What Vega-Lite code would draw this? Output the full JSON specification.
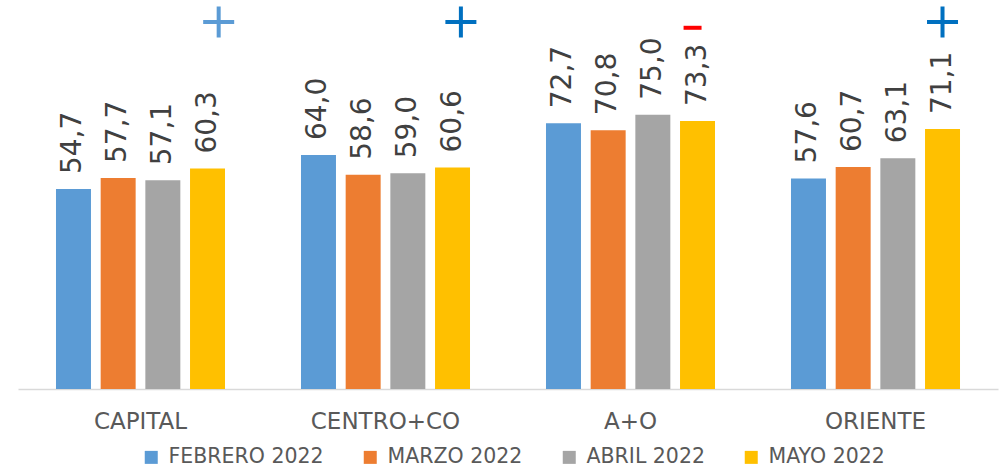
{
  "$schema": "https://vega.github.io/schema/vega-lite/v6.json",
  "width": 980,
  "height": 389,
  "autosize": {"type": "none"},
  "padding": {"left": 18, "top": 0, "right": 6, "bottom": 82},
  "config": {
    "view": {"stroke": null},
    "locale": {"number": {"decimal": ",", "thousands": ".", "grouping": [3], "currency": ["", " €"]}},
    "font": "DejaVu Sans",
    "axisX": {
      "labelFont": "DejaVu Sans",
      "labelFontSize": 23,
      "labelColor": "#595959",
      "labelPadding": 21,
      "ticks": false,
      "tickSize": 0,
      "domainColor": "#d9d9d9",
      "domainWidth": 1.5,
      "grid": false,
      "title": null,
      "labelAngle": 0
    },
    "legend": {
      "labelFont": "DejaVu Sans",
      "labelFontSize": 20.5,
      "labelColor": "#595959",
      "symbolType": "square",
      "symbolSize": 169,
      "symbolStrokeWidth": 0,
      "labelOffset": 7,
      "columnPadding": 36
    }
  },
  "datasets": {
    "barras": [
      {"region": "CAPITAL", "serie": "FEBRERO 2022", "valor": 54.7},
      {"region": "CAPITAL", "serie": "MARZO 2022", "valor": 57.7},
      {"region": "CAPITAL", "serie": "ABRIL 2022", "valor": 57.1},
      {"region": "CAPITAL", "serie": "MAYO 2022", "valor": 60.3},
      {"region": "CENTRO+CO", "serie": "FEBRERO 2022", "valor": 64.0},
      {"region": "CENTRO+CO", "serie": "MARZO 2022", "valor": 58.6},
      {"region": "CENTRO+CO", "serie": "ABRIL 2022", "valor": 59.0},
      {"region": "CENTRO+CO", "serie": "MAYO 2022", "valor": 60.6},
      {"region": "A+O", "serie": "FEBRERO 2022", "valor": 72.7},
      {"region": "A+O", "serie": "MARZO 2022", "valor": 70.8},
      {"region": "A+O", "serie": "ABRIL 2022", "valor": 75.0},
      {"region": "A+O", "serie": "MAYO 2022", "valor": 73.3},
      {"region": "ORIENTE", "serie": "FEBRERO 2022", "valor": 57.6},
      {"region": "ORIENTE", "serie": "MARZO 2022", "valor": 60.7},
      {"region": "ORIENTE", "serie": "ABRIL 2022", "valor": 63.1},
      {"region": "ORIENTE", "serie": "MAYO 2022", "valor": 71.1}
    ],
    "signos": [
      {"region": "CAPITAL", "serie": "MAYO 2022", "signo": "+", "nivel": 100.4},
      {"region": "CENTRO+CO", "serie": "MAYO 2022", "signo": "+", "nivel": 100.4},
      {"region": "A+O", "serie": "MAYO 2022", "signo": "−", "nivel": 98.8},
      {"region": "ORIENTE", "serie": "MAYO 2022", "signo": "+", "nivel": 100.4}
    ]
  },
  "encoding": {
    "x": {
      "field": "region",
      "type": "nominal",
      "sort": ["CAPITAL", "CENTRO+CO", "A+O", "ORIENTE"],
      "scale": {"paddingInner": 0.27, "paddingOuter": 0.135},
      "axis": {"title": null}
    },
    "xOffset": {
      "field": "serie",
      "type": "nominal",
      "sort": ["FEBRERO 2022", "MARZO 2022", "ABRIL 2022", "MAYO 2022"],
      "scale": {"domain": ["FEBRERO 2022", "MARZO 2022", "ABRIL 2022", "MAYO 2022"], "paddingInner": 0.217, "paddingOuter": 0.11}
    }
  },
  "layer": [
    {
      "data": {"name": "barras"},
      "mark": {"type": "bar"},
      "encoding": {
        "y": {"field": "valor", "type": "quantitative", "scale": {"domain": [0, 106.4], "nice": false}, "axis": null},
        "color": {
          "field": "serie",
          "type": "nominal",
          "sort": ["FEBRERO 2022", "MARZO 2022", "ABRIL 2022", "MAYO 2022"],
          "scale": {"domain": ["FEBRERO 2022", "MARZO 2022", "ABRIL 2022", "MAYO 2022"], "range": ["#5b9bd5", "#ed7d31", "#a5a5a5", "#ffc000"]},
          "legend": {"title": null, "orient": "none", "direction": "horizontal", "columns": 4, "legendX": 123, "legendY": 447}
        }
      }
    },
    {
      "data": {"name": "barras"},
      "mark": {"type": "text", "angle": 270, "align": "left", "baseline": "middle", "dx": 15, "fontSize": 28, "color": "#404040", "font": "DejaVu Sans"},
      "encoding": {
        "y": {"field": "valor", "type": "quantitative"},
        "text": {"field": "valor", "type": "quantitative", "format": ".1f"}
      }
    },
    {
      "data": {"name": "signos"},
      "transform": [{"filter": "datum.region === 'CAPITAL'"}],
      "mark": {"type": "point", "shape": "M-0.28,0H1.72M0.72,-1V1", "size": 961, "filled": false, "strokeWidth": 4, "strokeCap": "butt", "opacity": 1, "color": "#5b9bd5"},
      "encoding": {"y": {"field": "nivel", "type": "quantitative"}}
    },
    {
      "data": {"name": "signos"},
      "transform": [{"filter": "datum.region === 'CENTRO+CO'"}],
      "mark": {"type": "point", "shape": "M-0.46,0H1.54M0.54,-1V1", "size": 961, "filled": false, "strokeWidth": 4, "strokeCap": "butt", "opacity": 1, "color": "#0070c0"},
      "encoding": {"y": {"field": "nivel", "type": "quantitative"}}
    },
    {
      "data": {"name": "signos"},
      "transform": [{"filter": "datum.region === 'ORIENTE'"}],
      "mark": {"type": "point", "shape": "M-1,0H1M0,-1V1", "size": 961, "filled": false, "strokeWidth": 4, "strokeCap": "butt", "opacity": 1, "color": "#0070c0"},
      "encoding": {"y": {"field": "nivel", "type": "quantitative"}}
    },
    {
      "data": {"name": "signos"},
      "transform": [{"filter": "datum.region === 'A+O'"}],
      "mark": {"type": "point", "shape": "M-0.9,0H0.26", "size": 961, "filled": false, "strokeWidth": 4, "strokeCap": "butt", "opacity": 1, "color": "#ff0000"},
      "encoding": {"y": {"field": "nivel", "type": "quantitative"}}
    }
  ]
}
